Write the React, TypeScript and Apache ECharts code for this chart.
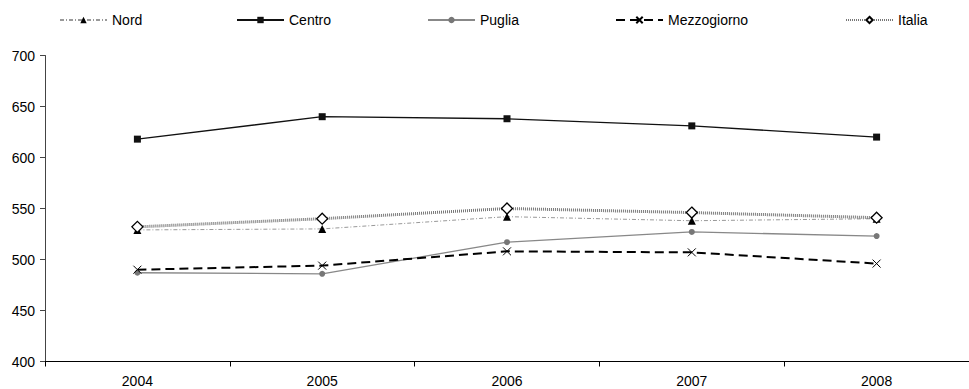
import React, { useEffect, useRef } from "react";
import * as echarts from "echarts";

const years = ["2004", "2005", "2006", "2007", "2008"];
const nord = [529, 530, 542, 538, 540];
const centro = [618, 640, 638, 631, 620];
const puglia = [487, 486, 517, 527, 523];
const mezzogiorno = [490, 494, 508, 507, 496];
const italia = [532, 540, 550, 546, 541];

const FONT = "'Liberation Sans', Arial, sans-serif";
const CROSS = "path://M0,0L10,10M10,0L0,10";

export default function App() {
  const ref = useRef<HTMLDivElement>(null);

  useEffect(() => {
    if (!ref.current) return;
    const chart = echarts.init(ref.current, null, { renderer: "svg" });

    const legendAt = (name: string, left: number) => ({
      data: [name],
      left,
      top: 13,
      padding: 0,
      itemWidth: 47,
      itemHeight: 8,
      textStyle: { fontFamily: FONT, fontSize: 14, color: "#000" },
      selectedMode: false,
    });

    chart.setOption({
      animation: false,
      backgroundColor: "#fff",
      legend: [
        legendAt("Nord", 59),
        legendAt("Centro", 236),
        legendAt("Puglia", 427),
        legendAt("Mezzogiorno", 615),
        legendAt("Italia", 845),
      ],
      grid: { left: 45, top: 55.5, height: 306, width: 930 },
      xAxis: {
        type: "category",
        data: years,
        boundaryGap: true,
        axisLine: { lineStyle: { color: "#000", width: 1 } },
        axisTick: { show: true, length: 5, inside: false, lineStyle: { color: "#000" } },
        axisLabel: { fontFamily: FONT, fontSize: 14, color: "#000", margin: 12 },
        splitLine: { show: false },
      },
      yAxis: {
        type: "value",
        min: 400,
        max: 700,
        interval: 50,
        axisLine: { show: true, lineStyle: { color: "#444", width: 1 } },
        axisTick: { show: true, length: 5, lineStyle: { color: "#444" } },
        axisLabel: { fontFamily: FONT, fontSize: 14, color: "#000", margin: 10 },
        splitLine: { show: false },
      },
      series: [
        {
          name: "Nord",
          type: "line",
          data: nord,
          symbol: "triangle",
          symbolSize: 8,
          itemStyle: { color: "#000" },
          lineStyle: { color: "#999", width: 1, type: [4, 2, 1, 2] },
        },
        {
          name: "Centro",
          type: "line",
          data: centro,
          symbol: "rect",
          symbolSize: 7,
          itemStyle: { color: "#111" },
          lineStyle: { color: "#111", width: 1.3 },
        },
        {
          name: "Puglia",
          type: "line",
          data: puglia,
          symbol: "circle",
          symbolSize: 6,
          itemStyle: { color: "#777" },
          lineStyle: { color: "#888", width: 1.3 },
        },
        {
          name: "Mezzogiorno",
          type: "line",
          data: mezzogiorno,
          symbol: CROSS,
          symbolSize: 8,
          itemStyle: { color: "none", borderColor: "#000", borderWidth: 1 },
          lineStyle: { color: "#000", width: 2, type: [9, 5] },
        },
        {
          name: "Italia",
          type: "line",
          data: italia,
          symbol: "diamond",
          symbolSize: 11,
          itemStyle: { color: "#fff", borderColor: "#000", borderWidth: 1.3 },
          lineStyle: { color: "#777", width: 3, type: [1, 1] },
        },
      ],
    });

    return () => chart.dispose();
  }, []);

  return (
    <div
      ref={ref}
      style={{ position: "absolute", left: 0, top: 0, width: 969, height: 389 }}
    />
  );
}
